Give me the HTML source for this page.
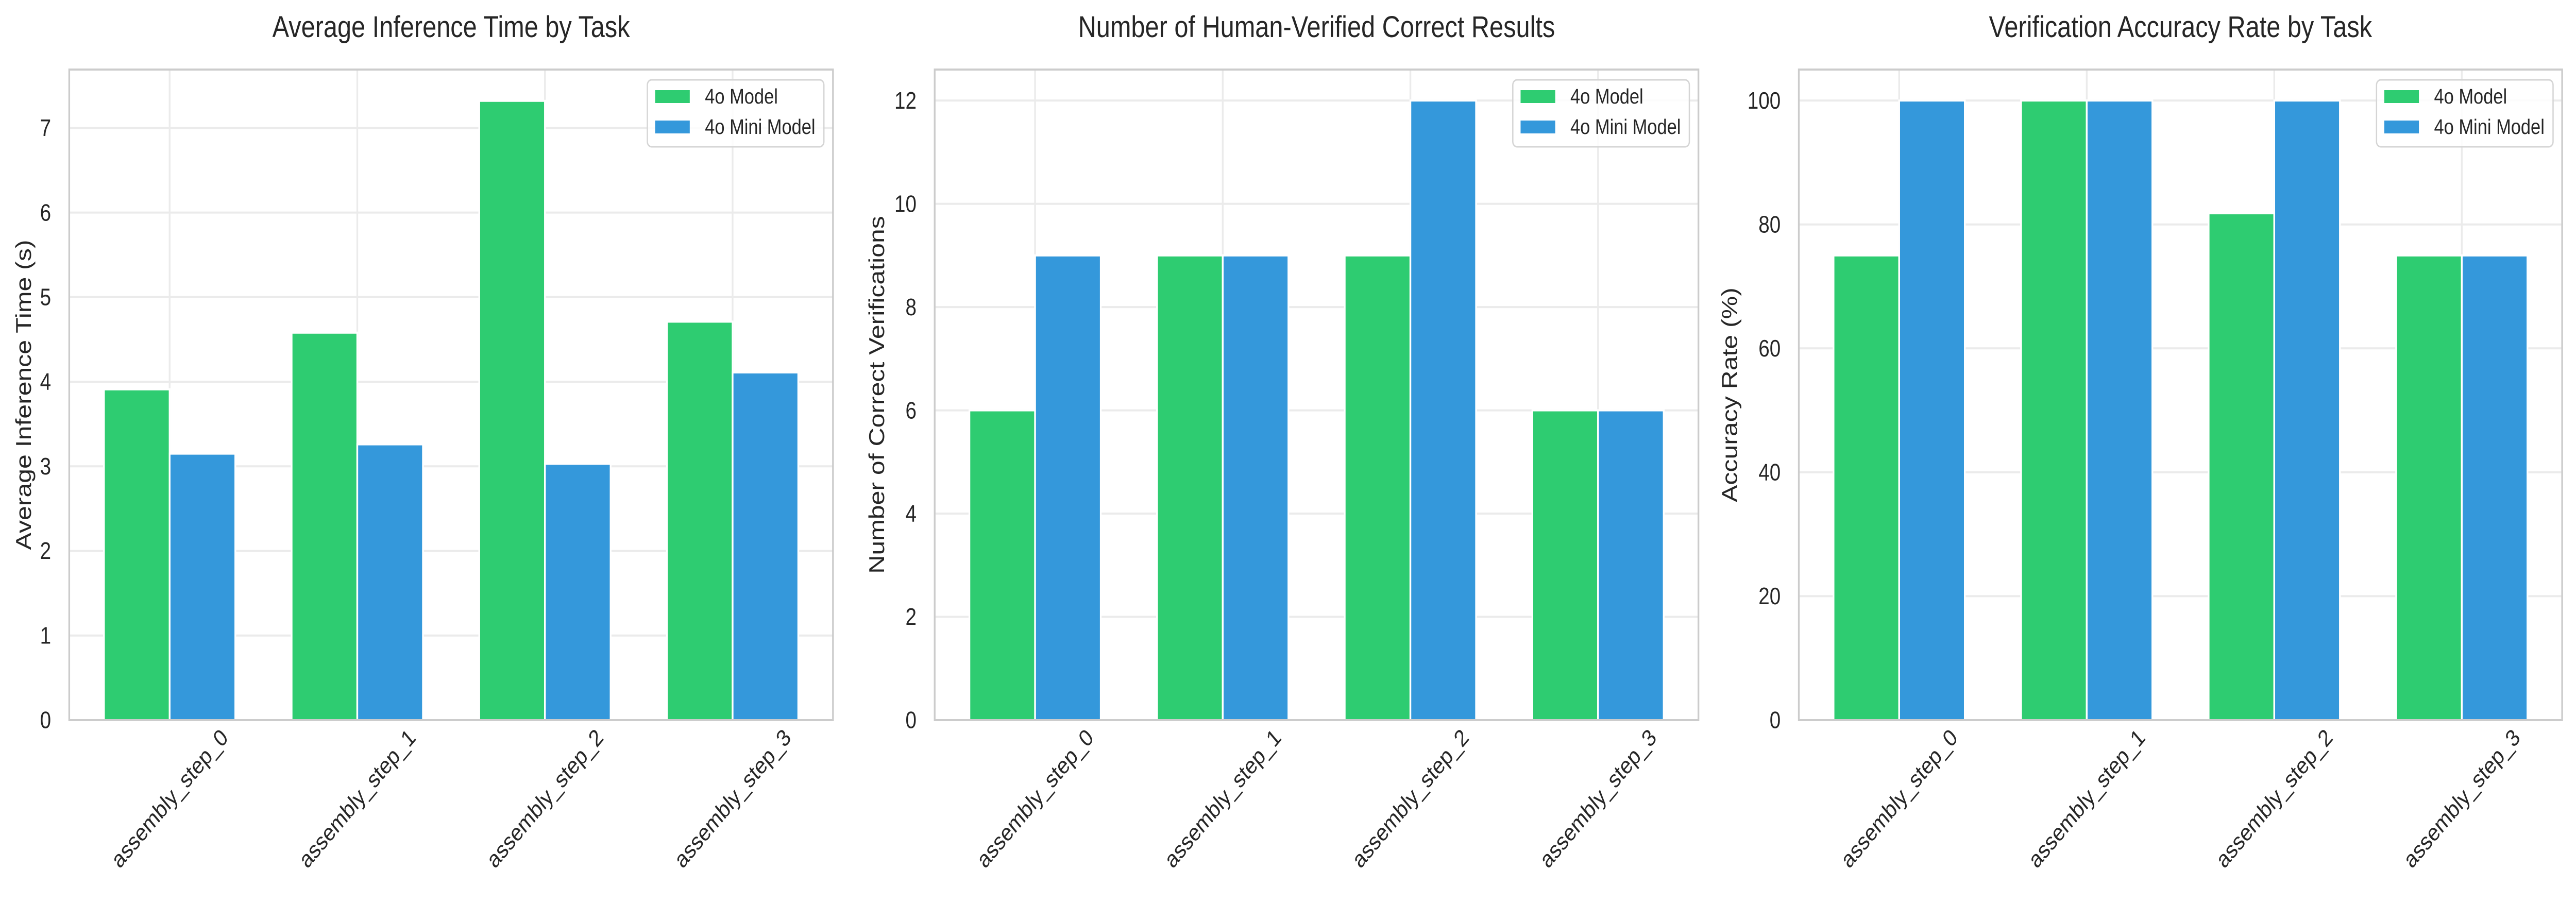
<!DOCTYPE html>
<html><head><meta charset="utf-8"><style>
html,body{margin:0;padding:0;background:#fff;overflow:hidden;width:100%;height:100%;}
svg{display:block;width:100vw;height:100vh;font-family:"Liberation Sans",Arial,sans-serif;}
</style></head><body>
<svg id="fig" xmlns="http://www.w3.org/2000/svg" viewBox="0 0 5953 1753" preserveAspectRatio="none"></svg>
<script>
const categories = ["assembly_step_0","assembly_step_1","assembly_step_2","assembly_step_3"];
const seriesNames = ["4o Model","4o Mini Model"];
const inferenceModel = [3.91, 4.58, 7.32, 4.71];
const inferenceMini = [3.15, 3.26, 3.03, 4.11];
const correctModel = [6, 9, 9, 6];
const correctMini = [9, 9, 12, 6];
const accuracyModel = [75, 100, 81.8, 75];
const accuracyMini = [100, 100, 100, 75];
const inferenceTicks = [0,1,2,3,4,5,6,7];
const correctTicks = [0,2,4,6,8,10,12];
const accuracyTicks = [0,20,40,60,80,100];

const NS = "http://www.w3.org/2000/svg";
const svg = document.getElementById("fig");
const colors = ["#2ecc71","#3498db"];
function mk(tag, attrs, parent){
  const e = document.createElementNS(NS, tag);
  for (const k in attrs) e.setAttribute(k, attrs[k]);
  (parent||svg).appendChild(e);
  return e;
}
const TOP = 135, BOTTOM = 1398;
const panels = [
  {key:"inference", left:160, right:1925, ymax:7.69, ticks:inferenceTicks, s:[inferenceModel,inferenceMini], title:"Average Inference Time by Task", ylabel:"Average Inference Time (s)", ylabelX:54},
  {key:"correct", left:2160, right:3925, ymax:12.6, ticks:correctTicks, s:[correctModel,correctMini], title:"Number of Human-Verified Correct Results", ylabel:"Number of Correct Verifications", ylabelX:2026},
  {key:"accuracy", left:4157, right:5921, ymax:105, ticks:accuracyTicks, s:[accuracyModel,accuracyMini], title:"Verification Accuracy Rate by Task", ylabel:"Accuracy Rate (%)", ylabelX:3997}
];
const XMIN = -0.535, XMAX = 3.535, BW = 0.35;

panels.forEach(p => {
  const g = mk("g", {});
  
  
  const xs = v => p.left + (v - XMIN) / (XMAX - XMIN) * (p.right - p.left);
  const ys = v => BOTTOM - v / p.ymax * (BOTTOM - TOP);
  p.ticks.forEach(t => {
    const l = mk("line", {x1:p.left, x2:p.right, y1:ys(t), y2:ys(t), stroke:"#ebebeb", "stroke-width":4}, g);
    
    
    const tx = mk("text", {x:p.left-42, y:ys(t), "text-anchor":"end", "dominant-baseline":"central", "font-size":46, fill:"#262626"}, g);
    tx.textContent = t;
    
    
  });
  categories.forEach((c, i) => {
    const l = mk("line", {x1:xs(i), x2:xs(i), y1:TOP, y2:BOTTOM, stroke:"#ebebeb", "stroke-width":4}, g);
    
    
  });
  p.s.forEach((arr, si) => {
    arr.forEach((v, i) => {
      const x0 = si === 0 ? xs(i - BW) : xs(i);
      const x1 = si === 0 ? xs(i) : xs(i + BW);
      const r = mk("rect", {x:x0, y:ys(v), width:x1-x0, height:BOTTOM-ys(v), fill:colors[si], stroke:"#fff", "stroke-width":4}, g);
      
      
    });
  });
  const f = mk("rect", {x:p.left, y:TOP, width:p.right-p.left, height:BOTTOM-TOP, fill:"none", stroke:"#cccccc", "stroke-width":4}, g);
  
  
  categories.forEach((c, i) => {
    const cx = xs(i), cy = 1550;
    const t = mk("text", {x:cx, y:cy, "text-anchor":"middle", "dominant-baseline":"central", "font-size":46, fill:"#262626", transform:`rotate(-45 ${cx} ${cy})`}, g);
    t.textContent = c;
    
    
  });
  const ti = mk("text", {x:(p.left+p.right)/2, y:72, "text-anchor":"middle", "font-size":58, fill:"#262626"}, g);
  ti.textContent = p.title;
  
  
  const cy = (TOP+BOTTOM)/2;
  const yl = mk("text", {x:p.ylabelX, y:cy, "text-anchor":"middle", "dominant-baseline":"central", "font-size":50, fill:"#262626", transform:`rotate(-90 ${p.ylabelX} ${cy})`}, g);
  yl.textContent = p.ylabel;
  
  
  const lx = p.right - 429, lw = 408;
  const lg = mk("g", {}, g);
  
  
  mk("rect", {x:lx, y:155, width:lw, height:130, rx:10, fill:"#fff", "fill-opacity":0.85, stroke:"#d5d5d5", "stroke-width":3}, lg);
  seriesNames.forEach((n, si) => {
    const ey = 175 + si*59;
    const sw = mk("rect", {x:lx+18, y:ey, width:80, height:25, fill:colors[si]}, lg);
    
    
    const lt = mk("text", {x:lx+133, y:ey+13, "dominant-baseline":"central", "font-size":41, fill:"#262626"}, lg);
    lt.textContent = n;
    
    
  });
});
</script>
</body></html>
